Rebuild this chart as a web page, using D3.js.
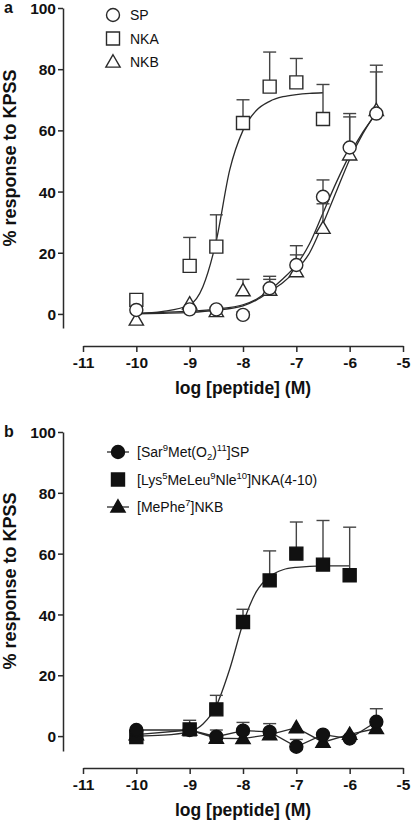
<!DOCTYPE html>
<html><head><meta charset="utf-8">
<script src="https://cdn.jsdelivr.net/npm/d3@7"></script>
<style>
body{margin:0;background:#fff}
svg{display:block}
text{font-family:"Liberation Sans",Arial,Helvetica,sans-serif;fill:#111}
</style>
</head><body>
<svg id="chart" width="412" height="823"></svg>
<script>
// ---------- data ----------
const xTicks = [-11, -10, -9, -8, -7, -6, -5];
const yTicks = [0, 20, 40, 60, 80, 100];
const xTitle = "log [peptide] (M)";
const yTitle = "% response to KPSS";

// panel a
const doseA   = [-10, -9, -8.5, -8, -7.5, -7, -6.5, -6, -5.5];
const spMean  = [1.3, 1.5, 1.5, -0.3, 8.4, 16, 38.3, 54.4, 65.5];
const spErr   = [0, 0, 0, 1, 3.9, 6.3, 5.5, 11.1, 15.8];
const nkbMean = [-2, 3.3, 0.8, 7.6, 7.8, 13.8, 28, 52, 66.5];
const nkbErr  = [0, 0, 0.5, 3.7, 3.5, 5.5, 8, 12.4, 12.6];
const doseNKA = [-10, -9, -8.5, -8, -7.5, -7, -6.5];
const nkaMean = [4.6, 15.7, 22, 62.4, 74.3, 75.7, 63.7];
const nkaErr  = [0, 9.3, 10.4, 7.6, 11.3, 7.8, 11.3];

// fitted curves, panel a
const fitSPx  = [-10, -9.5, -9, -8.5, -8, -7.75, -7.5, -7.25, -7, -6.75, -6.5, -6.25, -6, -5.75, -5.5];
const fitSPy  = [0.2, 0.5, 0.9, 1.6, 3, 4.8, 7.8, 11.5, 16, 23, 33, 43, 52, 59.5, 65.5];
const fitNKBx = [-10, -9.5, -9, -8.5, -8, -7.75, -7.5, -7.25, -7, -6.75, -6.5, -6.25, -6, -5.75, -5.5];
const fitNKBy = [0, 0.2, 0.5, 1.2, 2.6, 4.5, 7.3, 10.3, 14.3, 20, 29.5, 40, 50.5, 59, 66];
const fitNKAx = [-10, -9.5, -9, -8.75, -8.5, -8.25, -8, -7.75, -7.5, -7.25, -7, -6.75, -6.5];
const fitNKAy = [0.1, 0.8, 3, 9, 24, 47, 60, 66.5, 69.5, 71, 71.7, 72.1, 72.3];

// panel b
const doseB    = [-10, -9, -8.5, -8, -7.5, -7, -6.5, -6, -5.5];
const sarMean  = [2, 2, -0.2, 1.8, 1.4, -3.5, 0.5, -0.8, 4.7];
const sarErr   = [0, 0, 2.2, 2.7, 2.7, 2.4, 0, 0, 4.3];
const mepMean  = [0.5, 2, -0.7, -0.8, 0.5, 2.8, -2, 0.6, 2.5];
const mepErr   = [0, 0, 0, 0, 0, 0, 0, 0, 0];
const doseLys  = [-10, -9, -8.5, -8, -7.5, -7, -6.5, -6];
const lysMean  = [-0.3, 2.2, 8.8, 37.5, 51.2, 60, 56.4, 52.9];
const lysErr   = [0, 3, 4.6, 4.2, 9.7, 10.4, 14.5, 15.8];
const fitLysx  = [-10, -9.5, -9, -8.75, -8.5, -8.25, -8, -7.75, -7.5, -7.25, -7, -6.5, -6];
const fitLysy  = [0, 0.3, 1.5, 4, 10, 22, 37, 47.5, 52.5, 54.7, 55.5, 56, 56];

const legendA = ["SP", "NKA", "NKB"];
// legend b: [text, shift] shift 1 = superscript, -1 = subscript
const legendB = [
  [["[Sar",0],["9",1],["Met(O",0],["2",-1],[")",0],["11",1],["]SP",0]],
  [["[Lys",0],["5",1],["MeLeu",0],["9",1],["Nle",0],["10",1],["]NKA(4-10)",0]],
  [["[MePhe",0],["7",1],["]NKB",0]]
];

// ---------- drawing ----------
const svg = d3.select("#chart");
const x = d3.scaleLinear().domain([-11, -5]).range([83, 403]);
const INK = "#2a2a2a";

const symCircle = d3.symbol().type(d3.symbolCircle).size(Math.PI * 6.5 * 6.5);
const symSquare = d3.symbol().type(d3.symbolSquare).size(13 * 13);
const symTri = d3.symbol().type(d3.symbolTriangle).size(88);

function axes(y, axisY, label) {
  const g = svg.append("g");
  const ya = d3.axisLeft(y).tickValues(yTicks).tickSize(5).tickSizeOuter(0).tickPadding(2)
    .tickFormat(d => String(d));
  const gy = g.append("g").attr("transform", "translate(63,0)").call(ya);
  const xa = d3.axisBottom(x).tickValues(xTicks).tickSize(6).tickSizeOuter(0).tickPadding(5)
    .tickFormat(d => String(d));
  const gx = g.append("g").attr("transform", `translate(0,${axisY})`).call(xa);
  [gy, gx].forEach(a => {
    a.selectAll("path, line").attr("stroke", INK).attr("stroke-width", 1.5);
    a.selectAll("text").attr("font-size", 15.5).attr("font-weight", "bold").attr("fill", "#111")
      .style("font-family", '"Liberation Sans",Arial,sans-serif');
  });
  gy.selectAll("text").attr("dy", "0.36em");
  // y title
  const yc = (y(100) + y(0)) / 2 - 3;
  g.append("text").attr("transform", `translate(16,${yc}) rotate(-90)`)
    .attr("text-anchor", "middle").attr("font-size", 18).attr("font-weight", "bold").text(yTitle);
  g.append("text").attr("x", x(-8)).attr("y", axisY + 48).attr("text-anchor", "middle")
    .attr("font-size", 17.5).attr("font-weight", "bold").text(xTitle);
  g.append("text").attr("x", 4).attr("y", y(100) + 5).attr("font-size", 16)
    .attr("font-weight", "bold").text(label);
}

function curve(y, xs, ys, linear) {
  const line = d3.line().x(d => x(d[0])).y(d => y(d[1]))
    .curve(linear ? d3.curveLinear : d3.curveMonotoneX);
  svg.append("path").datum(xs.map((v, i) => [v, ys[i]]))
    .attr("d", line).attr("fill", "none").attr("stroke", INK).attr("stroke-width", 1.3);
}

function errs(y, xs, m, e) {
  const g = svg.append("g").attr("stroke", "#444").attr("stroke-width", 1.4);
  xs.forEach((v, i) => {
    if (!e[i]) return;
    const px = x(v), top = y(m[i] + e[i]);
    g.append("line").attr("x1", px).attr("x2", px).attr("y1", y(m[i])).attr("y2", top);
    g.append("line").attr("x1", px - 6.5).attr("x2", px + 6.5).attr("y1", top).attr("y2", top);
  });
}

function marks(y, xs, m, sym, filled, dyTri) {
  svg.append("g").selectAll("path").data(xs.map((v, i) => [v, m[i]])).join("path")
    .attr("transform", d => `translate(${x(d[0])},${y(d[1]) + (dyTri || 0)})`)
    .attr("d", sym())
    .attr("fill", filled ? "#111" : "#fff")
    .attr("stroke", filled ? "#111" : INK).attr("stroke-width", 1.4);
}

// ----- panel a -----
const yA = d3.scaleLinear().domain([-4.6, 100]).range([328, 8]);
axes(yA, 346, "a");
curve(yA, fitNKAx, fitNKAy);
curve(yA, fitSPx, fitSPy);
curve(yA, fitNKBx, fitNKBy);
errs(yA, doseNKA, nkaMean, nkaErr);
errs(yA, doseA, nkbMean, nkbErr);
errs(yA, doseA, spMean, spErr);
marks(yA, doseNKA, nkaMean, symSquare, false);
marks(yA, doseA, nkbMean, symTri, false, 1);
marks(yA, doseA, spMean, symCircle, false);

// legend a
const legSymA = [symCircle, symSquare, symTri];
legendA.forEach((t, i) => {
  const ly = 15 + i * 23.5;
  svg.append("path").attr("transform", `translate(113,${ly + (i === 2 ? 1 : 0)})`).attr("d", legSymA[i]())
    .attr("fill", "#fff").attr("stroke", INK).attr("stroke-width", 1.4);
  svg.append("text").attr("x", 130).attr("y", ly + 5).attr("font-size", 14).text(t);
});

// ----- panel b -----
const yB = d3.scaleLinear().domain([-4.9, 100]).range([751, 432]);
axes(yB, 768, "b");
curve(yB, fitLysx, fitLysy);
curve(yB, doseB, sarMean, true);
curve(yB, doseB, mepMean, true);
errs(yB, doseLys, lysMean, lysErr);
errs(yB, doseB, sarMean, sarErr);
errs(yB, doseB, mepMean, mepErr);
marks(yB, doseLys, lysMean, symSquare, true);
marks(yB, doseB, mepMean, symTri, true, 1);
marks(yB, doseB, sarMean, symCircle, true);

// legend b
const legSymB = [symCircle, symSquare, symTri];
legendB.forEach((segs, i) => {
  const ly = 452 + i * 27.5;
  if (i !== 1) {
    svg.append("line").attr("x1", 107).attr("x2", 129).attr("y1", ly).attr("y2", ly)
      .attr("stroke", INK).attr("stroke-width", 1.3);
  }
  svg.append("path").attr("transform", `translate(118,${ly + (i === 2 ? 1 : 0)})`).attr("d", legSymB[i]())
    .attr("fill", "#111").attr("stroke", "#111").attr("stroke-width", 1.4);
  const t = svg.append("text").attr("x", 137).attr("y", ly + 5).attr("font-size", 14);
  let cur = 0;
  segs.forEach(([s, k]) => {
    const target = k === 1 ? -6 : (k === -1 ? 3 : 0);
    t.append("tspan").attr("dy", target - cur).attr("font-size", k ? 9.5 : 14).text(s);
    cur = target;
  });
});
</script>
</body></html>
